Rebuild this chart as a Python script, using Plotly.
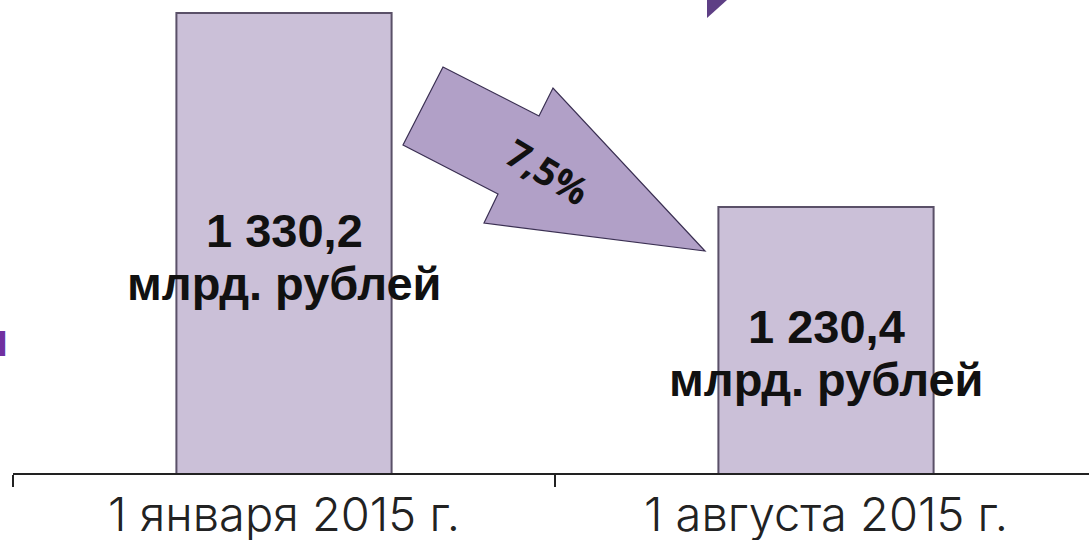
import plotly.graph_objects as go

categories = ["1 января 2015 г.", "1 августа 2015 г."]
values = [1330.2, 1230.4]
value_numbers = ["1 330,2", "1 230,4"]
value_unit = "млрд. рублей"
change_label = "7,5%"

W, H = 1089, 540
L, T, B = 13, 0, 67
PW, PH = W - L, H - T - B
y_base = 1093.5
y_top = y_base + 243.4

def px(x):
    return (x - L) / PW

def py(y):
    return (H - B - y) / PH

fig = go.Figure()
fig.add_trace(go.Bar(
    x=categories, y=values,
    marker=dict(color="#cbc0d8", line=dict(color="#5a5068", width=2)),
    width=0.397,
    hoverinfo="skip",
))

bar_font = dict(family="Liberation Sans, Arial", size=47, color="#111111", weight="bold")
annotations = []
for c, v, num in zip(categories, values, value_numbers):
    mid = (v + y_base) / 2
    annotations.append(dict(x=c, y=mid, xref="x", yref="y", text=num, showarrow=False,
                            yshift=13, font=bar_font))
    annotations.append(dict(x=c, y=mid, xref="x", yref="y", text=value_unit, showarrow=False,
                            yshift=-40, font=bar_font))

arrow_pts = [(443, 67), (403, 145), (498, 194), (484, 223), (705, 251), (553, 88), (539, 116)]
path = "M " + " L ".join(f"{px(x):.5f},{py(y):.5f}" for x, y in arrow_pts) + " Z"
tri_pts = [(707, 0), (727, 0), (707, 18)]
tri_path = "M " + " L ".join(f"{px(x):.5f},{py(y):.5f}" for x, y in tri_pts) + " Z"

shapes = [
    dict(type="path", path=path, xref="paper", yref="paper",
         fillcolor="#b1a0c7", line=dict(color="#3a2f52", width=1.2), layer="above"),
    dict(type="path", path=tri_path, xref="paper", yref="paper",
         fillcolor="#5e3f85", line=dict(width=0), layer="above"),
]

annotations.append(dict(
    x=px(548), y=py(171), xref="paper", yref="paper", text=change_label, showarrow=False,
    textangle=31, font=dict(family="Open Sans, Lato", size=38, color="#111111", weight="bold"),
))
annotations.append(dict(
    x=px(10), y=py(368), xref="paper", yref="paper", text="и", showarrow=False,
    xanchor="right", font=dict(family="Liberation Sans, Arial", size=46, color="#7030a0", weight="bold"),
))

fig.update_layout(
    width=W, height=H,
    margin=dict(l=L, r=0, t=T, b=B, pad=0),
    paper_bgcolor="white", plot_bgcolor="white",
    showlegend=False,
    shapes=shapes, annotations=annotations,
    xaxis=dict(
        range=[-0.5, -0.5 + PW / 542], tickson="boundaries", ticks="outside", ticklen=12,
        tickcolor="#222222", tickwidth=1.5, showline=True, linecolor="#222222", linewidth=1.5,
        showgrid=False, zeroline=False, automargin=False,
        tickfont=dict(family="Inter, Lato", size=47, color="#222222", weight=300),
    ),
    yaxis=dict(range=[y_base, y_top], visible=False, showgrid=False, zeroline=False),
)

fig.write_html("out.html", config={"displayModeBar": False},
               post_script="document.body.style.margin='0';document.body.style.padding='0';")
